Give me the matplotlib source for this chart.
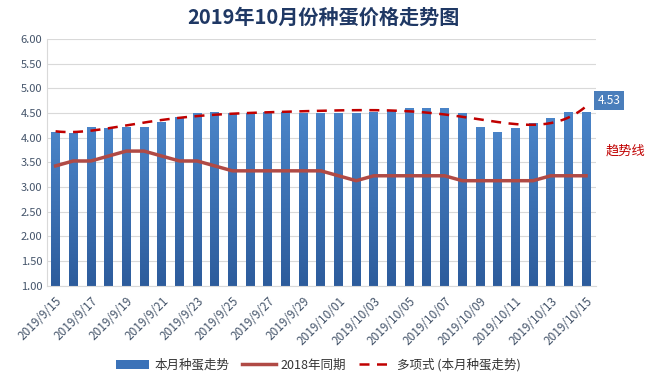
import matplotlib.pyplot as plt
import numpy as np
from matplotlib.colors import LinearSegmentedColormap

plt.rcParams['font.family'] = ['Noto Sans CJK SC', 'DejaVu Sans']

# daily dates 9/15 .. 10/15
dates = [f"2019/9/{d}" for d in range(15, 31)] + [f"2019/10/{d:02d}" for d in range(1, 16)]

price_2019 = [4.12, 4.10, 4.22, 4.20, 4.22, 4.22, 4.32, 4.42, 4.51, 4.52,
              4.51, 4.50, 4.52, 4.52, 4.51, 4.51, 4.51, 4.51, 4.53, 4.54,
              4.61, 4.61, 4.61, 4.51, 4.22, 4.12, 4.20, 4.30, 4.41, 4.53, 4.53]

price_2018 = [3.43, 3.53, 3.53, 3.63, 3.73, 3.73, 3.63, 3.53, 3.53, 3.43,
              3.33, 3.33, 3.33, 3.33, 3.33, 3.33, 3.23, 3.13, 3.23, 3.23,
              3.23, 3.23, 3.23, 3.13, 3.13, 3.13, 3.13, 3.13, 3.23, 3.23, 3.23]

x = np.arange(len(dates))

# polynomial trend line (like excel's), fitted on this month's data
coef = np.polyfit(x, price_2019, 6)
xs = np.linspace(0, len(dates) - 1, 200)
trend = np.polyval(coef, xs)

fig = plt.figure(figsize=(6.54, 3.90), dpi=100)
ax = fig.add_axes([0.072, 0.267, 0.839, 0.633])

bars = ax.bar(x, price_2019, width=0.5, color='#3b72b8', zorder=2, label='本月种蛋走势')
# vertical gradient inside each bar, lighter at top
grad = np.linspace(0, 1, 100).reshape(-1, 1)
cm = LinearSegmentedColormap.from_list('b', ['#2d5c9c', '#4a84c8'])
for b in bars:
    im = ax.imshow(grad, cmap=cm, origin='lower', aspect='auto', zorder=2.1,
                   extent=(b.get_x(), b.get_x() + b.get_width(), 1, b.get_height()))
    im.set_clip_path(b)

ax.plot(x, price_2018, color='#b04a45', lw=2.5, zorder=3, label='2018年同期')
ax.plot(xs, trend, color='#c00000', lw=1.8, ls=(0, (4, 3)), zorder=4, label='多项式 (本月种蛋走势)')

ax.set_xlim(-0.48, 30.55)
ax.set_ylim(1, 6)
ax.set_yticks(np.arange(1, 6.01, 0.5))
ax.set_yticklabels([f"{v:.2f}" for v in np.arange(1, 6.01, 0.5)])
ax.set_xticks(x[::2])
ax.set_xticklabels(dates[::2], rotation=45, ha='right', rotation_mode='anchor')
ax.tick_params(axis='both', length=0, labelsize=8, colors='#44546a')
ax.tick_params(axis='x', pad=6, labelsize=8.5)
ax.grid(axis='y', color='#d9d9d9', lw=0.8, zorder=0)
for s in ['top', 'right']:
    ax.spines[s].set_visible(False)
ax.spines['left'].set_color('#d9d9d9')
ax.spines['bottom'].set_color('#d9d9d9')

fig.text(0.494, 0.955, '2019年10月份种蛋价格走势图', ha='center', va='center',
         fontsize=14.5, fontweight='bold', color='#1f3864')

ax.annotate(f"{price_2019[-1]:.2f}", xy=(x[-1], price_2019[-1]), xytext=(16.5, 8),
            textcoords='offset points', ha='center', va='center', fontsize=8.5,
            color='white', bbox=dict(boxstyle='square,pad=0.28', fc='#4a7ebb', ec='none'))
fig.text(0.957, 0.613, '趋势线', ha='center', va='center', fontsize=9.5, color='#c00000')

h, l = ax.get_legend_handles_labels()
order = [2, 0, 1]
fig.legend([h[i] for i in order], [l[i] for i in order], loc='center',
           bbox_to_anchor=(0.487, 0.064), ncol=3, frameon=False,
           fontsize=9, handlelength=2.7, handletextpad=0.4, columnspacing=1.0,
           labelcolor='#333333')

fig.savefig('out.png', dpi=100)
